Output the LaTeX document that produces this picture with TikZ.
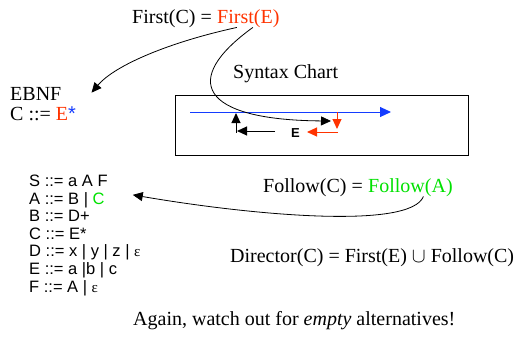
\documentclass[tikz,border=0pt]{standalone}
\usepackage{fontspec}
\setmainfont{Liberation Serif}
\setsansfont{Liberation Sans}
\usetikzlibrary{arrows.meta}
\definecolor{hotred}{RGB}{255,51,0}
\definecolor{brightgreen}{RGB}{0,225,0}
\definecolor{chartblue}{RGB}{20,60,255}
\begin{document}
\begin{tikzpicture}[x=1pt,y=-1pt,
  serif/.style={inner sep=0pt, font=\fontsize{20}{24}\selectfont, anchor=base west},
  gram/.style={inner sep=0pt, font=\sffamily\fontsize{16.5}{17.5}\selectfont, anchor=base west},
  bigtip/.style={-{Triangle[length=10pt,width=9pt]}},
  charttip/.style={line width=1pt, -{Triangle[length=10pt,width=9pt]}},
  link/.style={black, line width=0.8pt, bigtip}]
\useasboundingbox (0,0) rectangle (522,343);

% headings
\node[serif] (firstC) at (132,23) {First(C) =};
\node[serif, text=hotred] (firstE) at ([xshift=5pt]firstC.base east) {First(E)};
\node[serif] (chartlbl) at (233,78) {Syntax Chart};
\node[serif] (ebnf) at (10,100) {EBNF};
\node[serif] (crule) at (10,120) {C ::= \textcolor{hotred}{E}\textcolor{chartblue}{\sffamily *}};

% syntax chart of C ::= E*
\node[draw, line width=0.8pt, anchor=north west, inner sep=0pt,
      minimum width=293pt, minimum height=60pt] (chart) at (175,95) {};
\coordinate (cin) at (190,112);
\coordinate (cout) at (391,112);
\draw[chartblue, line width=1pt, -{Triangle[length=11pt,width=10pt]}] (cin) -- (cout);
\coordinate (backR) at (275,131);
\coordinate (corner) at (236,131);
\coordinate (upTop) at (236,113);
\draw[charttip] (backR) -- ([xshift=1pt]corner);
\draw[charttip] ([yshift=-1.5pt]corner) -- (upTop);
\coordinate (redTop) at (337,112);
\coordinate (redMid) at (337,129);
\coordinate (redCorner) at (338,132);
\coordinate (redEnd) at (307,132);
\draw[hotred, charttip] (redTop) -- (redMid);
\draw[hotred, charttip] (redCorner) -- (redEnd);
\node[font=\sffamily\bfseries\fontsize{13}{13}\selectfont, anchor=base west, inner sep=0pt] (elabel) at (291,137) {E};
\coordinate (loopend) at (331,121);

% grammar
\node[gram] (g1) at (29,186.5) {S ::= a A F};
\node[gram] (g2) at (29,204.1) {A ::= B | \textcolor{brightgreen}{C}};
\node[gram] (g3) at (29,221.7) {B ::= D+};
\node[gram] (g4) at (29,239.3) {C ::= E*};
\node[gram] (g5) at (29,256.9) {D ::= x | y | z | {\rmfamily\fontsize{15}{15}\selectfont ε}};
\node[gram] (g6) at (29,274.5) {E ::= a |b | c};
\node[gram] (g7) at (29,292.1) {F ::= A | {\rmfamily\fontsize{15}{15}\selectfont ε}};

% follow and director sets
\node[serif] (followC) at (263,192) {Follow(C) =};
\node[serif, text=brightgreen] (followA) at ([xshift=5pt]followC.base east) {Follow(A)};
\node[serif] (director) at (230,262) {Director(C) = First(E) $\cup$ Follow(C)};
\node[serif] (again) at (133,325) {Again, watch out for \emph{empty} alternatives!};

% connectors
\draw[link] ([xshift=-11.5pt]firstE.south) .. controls (170,42) and (115,65) .. ([xshift=30pt,yshift=-6pt]ebnf.north east);
\draw[link] ([xshift=4.5pt]firstE.south) .. controls (180,80) and (200,120) .. (loopend);
\draw[link] ([xshift=13pt]followA.south) .. controls (410,230) and (250,215) .. ([xshift=28pt,yshift=5pt]g2.east);
\end{tikzpicture}
\end{document}
